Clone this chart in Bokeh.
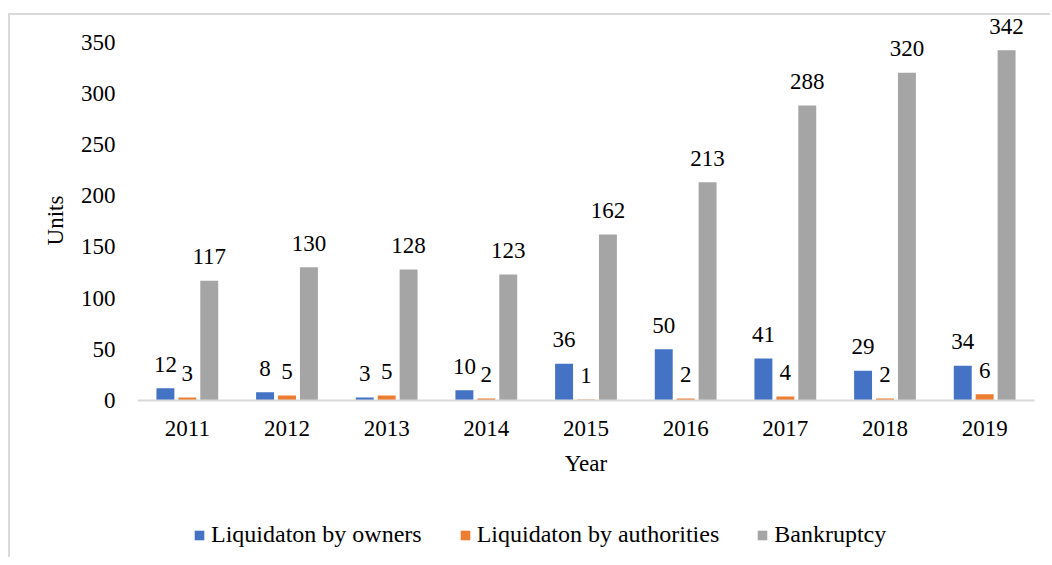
from bokeh.plotting import figure
from bokeh.models import FactorRange, Range1d, ColumnDataSource, Legend, LegendItem, FixedTicker
from bokeh.layouts import column
from bokeh.transform import dodge
from bokeh.core.properties import value
from bokeh.embed import file_html
from bokeh.resources import INLINE

years = ["2011", "2012", "2013", "2014", "2015", "2016", "2017", "2018", "2019"]
owners = [12, 8, 3, 10, 36, 50, 41, 29, 34]
authorities = [3, 5, 5, 2, 1, 2, 4, 2, 6]
bankruptcy = [117, 130, 128, 123, 162, 213, 288, 320, 342]
series_names = ["Liquidaton by owners", "Liquidaton by authorities", "Bankruptcy"]
colors = ["#4472C4", "#ED7D31", "#A5A5A5"]
y_ticks = [0, 50, 100, 150, 200, 250, 300, 350]

FONT = "Liberation Serif"

src = ColumnDataSource(dict(
    year=years, owners=owners, authorities=authorities, bankruptcy=bankruptcy,
    owners_t=[str(v) for v in owners],
    authorities_t=[str(v) for v in authorities],
    bankruptcy_t=[str(v) for v in bankruptcy],
))

p = figure(x_range=FactorRange(*years), y_range=Range1d(0, 374),
           width=1040, height=480, output_backend="svg", toolbar_location=None,
           min_border_left=127, min_border_right=16, min_border_top=2, min_border_bottom=95)
p.outline_line_color = None
p.xgrid.grid_line_color = None
p.ygrid.grid_line_color = None
p.background_fill_color = "white"
p.border_fill_color = "white"

offsets = [-0.22, 0.0, 0.22]
fields = ["owners", "authorities", "bankruptcy"]
for f, off, c in zip(fields, offsets, colors):
    p.vbar(x=dodge("year", off, range=p.x_range), top=f, width=0.18, source=src,
           fill_color=c, line_color=None)
    p.text(x=dodge("year", off, range=p.x_range), y=f, text=f + "_t", source=src,
           text_align="center", text_baseline="alphabetic", y_offset=-24,
           text_font=value(FONT), text_font_size="23px", text_color="black")

# axes
p.yaxis.ticker = FixedTicker(ticks=y_ticks)
p.yaxis.axis_line_color = None
p.yaxis.major_tick_line_color = None
p.yaxis.minor_tick_line_color = None
p.yaxis.major_tick_out = 0
p.yaxis.major_tick_in = 0
p.yaxis.major_label_standoff = 22
p.yaxis.major_label_text_font = FONT
p.yaxis.major_label_text_font_size = "23px"
p.yaxis.major_label_text_color = "black"
p.yaxis.axis_label = "Units\u00a0\u00a0\u00a0\u00a0"
p.yaxis.axis_label_text_font = FONT
p.yaxis.axis_label_text_font_size = "23px"
p.yaxis.axis_label_text_font_style = "normal"
p.yaxis.axis_label_text_color = "black"
p.yaxis.axis_label_standoff = 10

p.xaxis.axis_line_color = "#d9d9d9"
p.xaxis.axis_line_width = 2
p.xaxis.major_tick_line_color = None
p.xaxis.minor_tick_line_color = None
p.xaxis.major_label_standoff = 14
p.xaxis.major_label_text_font = FONT
p.xaxis.major_label_text_font_size = "23px"
p.xaxis.major_label_text_color = "black"
p.xaxis.axis_label = "Year"
p.xaxis.axis_label_text_font = FONT
p.xaxis.axis_label_text_font_size = "23px"
p.xaxis.axis_label_text_font_style = "normal"
p.xaxis.axis_label_text_color = "black"
p.xaxis.axis_label_standoff = 12

# legend strip (separate figure under the chart)
lf = figure(width=1040, height=62, output_backend="svg", toolbar_location=None,
            x_range=Range1d(0, 1), y_range=Range1d(0, 1),
            x_axis_location=None, y_axis_location=None,
            min_border_left=0, min_border_right=0, min_border_top=0, min_border_bottom=0)
lf.outline_line_color = None
lf.xgrid.grid_line_color = None
lf.ygrid.grid_line_color = None
lf.background_fill_color = "white"
lf.border_fill_color = "white"
# zero-size placeholder glyphs, only used to draw the legend swatches
leg_renderers = [lf.vbar(x=[0.0], top=[0.0], width=0.0, fill_color=c, line_color=None)
                 for c in colors]
legend = Legend(items=[LegendItem(label=n, renderers=[r]) for n, r in zip(series_names, leg_renderers)],
                orientation="horizontal", location=(56, 9),
                label_text_font=FONT, label_text_font_size="24px", label_text_color="black",
                glyph_width=12, glyph_height=12, label_standoff=6, spacing=37,
                padding=0, margin=0, label_height=24,
                border_line_color=None, background_fill_alpha=0)
lf.add_layout(legend, "center")

layout = column(p, lf, spacing=0)
layout.styles = {"margin-top": "13px", "margin-left": "8px",
                 "border-top": "2px solid #d9d9d9", "border-left": "2px solid #d9d9d9"}

open("out.html", "w").write(file_html(layout, INLINE))
